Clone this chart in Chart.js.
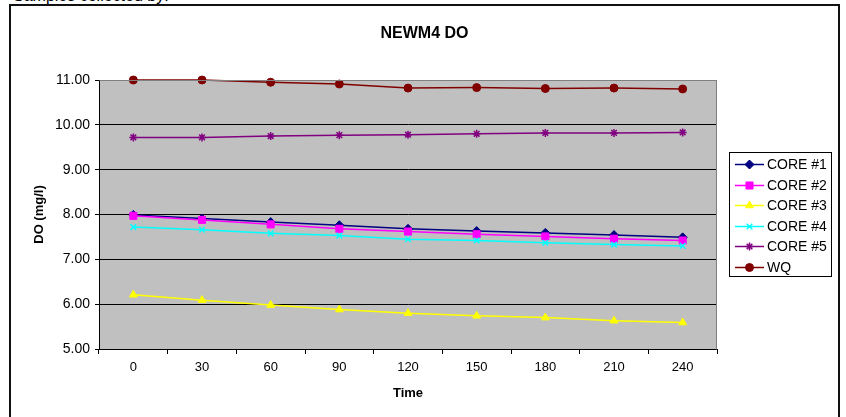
<!DOCTYPE html>
<html>
<head>
<meta charset="utf-8">
<script src="https://cdn.jsdelivr.net/npm/chart.js@4/dist/chart.umd.min.js"></script>
<style>
  body { margin: 0; background: #fff; overflow: hidden; }
  #note { position: absolute; left: 13px; top: -12px; font: 16px Arial, "Liberation Sans", sans-serif; line-height: 16px; color: #000; }
  #doChart { position: absolute; left: 0; top: 0; }
</style>
</head>
<body>
<div id="note">Samples collected by:</div>
<canvas id="doChart" width="846" height="417"></canvas>
<script>
const times = ["0", "30", "60", "90", "120", "150", "180", "210", "240"];
const core1 = [7.99, 7.91, 7.83, 7.76, 7.68, 7.63, 7.59, 7.54, 7.49];
const core2 = [7.97, 7.88, 7.78, 7.68, 7.62, 7.56, 7.51, 7.46, 7.42];
const core3 = [6.21, 6.09, 5.98, 5.88, 5.80, 5.74, 5.70, 5.63, 5.59];
const core4 = [7.72, 7.66, 7.58, 7.53, 7.45, 7.42, 7.37, 7.33, 7.30];
const core5 = [9.72, 9.72, 9.75, 9.77, 9.78, 9.80, 9.82, 9.82, 9.83];
const wq = [11.00, 11.00, 10.95, 10.91, 10.82, 10.83, 10.81, 10.82, 10.80];
const chartTitle = "NEWM4 DO";

const FONT = "Arial, 'Liberation Sans', sans-serif";

function series(label, data, color, style, radius, order) {
    return {
        label: label,
        data: data,
        borderColor: color,
        backgroundColor: color,
        pointBackgroundColor: color,
        pointBorderColor: color,
        borderWidth: 1.5,
        pointStyle: style,
        pointRadius: radius,
        pointBorderWidth: (style === "crossRot" || style === "star") ? 1.5 : 1,
        tension: 0,
        clip: false,
        order: order
    };
}

// plot background, outer frame, plot border, title centred on the whole frame
const frame = {
    id: "frame",
    beforeDraw(chart) {
        const ctx = chart.ctx;
        const a = chart.chartArea;
        ctx.save();
        ctx.strokeStyle = "#111";
        ctx.lineWidth = 2;
        ctx.strokeRect(10, 5, 829, 440);
        ctx.fillStyle = "#c0c0c0";
        ctx.fillRect(a.left, a.top, a.right - a.left, a.bottom - a.top);
        ctx.fillStyle = "#000";
        ctx.font = "bold 16px " + FONT;
        ctx.textAlign = "center";
        ctx.textBaseline = "middle";
        ctx.fillText(chartTitle, 424.5, 34);
        ctx.restore();
    },
    afterDatasetsDraw(chart) {
        const ctx = chart.ctx;
        const a = chart.chartArea;
        ctx.save();
        ctx.strokeStyle = "#808080";
        ctx.lineWidth = 1;
        ctx.beginPath();
        ctx.moveTo(Math.round(a.left) + 0.5, Math.round(a.top) + 0.5);
        ctx.lineTo(Math.round(a.right) - 0.5, Math.round(a.top) + 0.5);
        ctx.lineTo(Math.round(a.right) - 0.5, Math.round(a.bottom) + 0.5);
        ctx.stroke();
        ctx.restore();
    }
};

// legend box drawn on the right like the spreadsheet one
const sideLegend = {
    id: "sideLegend",
    afterDraw(chart) {
        const ctx = chart.ctx;
        const box = { x: 729, y: 152, w: 102, h: 124 };
        ctx.save();
        ctx.fillStyle = "#fff";
        ctx.fillRect(box.x, box.y, box.w, box.h);
        ctx.strokeStyle = "#000";
        ctx.lineWidth = 1;
        ctx.strokeRect(box.x + 0.5, box.y + 0.5, box.w, box.h);
        ctx.font = "14px " + FONT;
        ctx.textBaseline = "middle";
        chart.data.datasets.forEach(function (ds, i) {
            const y = Math.round(164 + i * 20.5) + 0.5;
            ctx.strokeStyle = ds.borderColor;
            ctx.lineWidth = 1.5;
            ctx.beginPath();
            ctx.moveTo(735, y);
            ctx.lineTo(764, y);
            ctx.stroke();
            ctx.fillStyle = ds.pointBackgroundColor;
            ctx.strokeStyle = ds.pointBorderColor;
            ctx.lineWidth = ds.pointBorderWidth;
            Chart.helpers.drawPoint(ctx, {
                pointStyle: ds.pointStyle,
                radius: ds.pointRadius,
                borderWidth: ds.pointBorderWidth,
                rotation: 0
            }, 749.5, y);
            ctx.fillStyle = "#000";
            ctx.fillText(ds.label, 767, y + 1);
        });
        ctx.restore();
    }
};

new Chart(document.getElementById("doChart"), {
    type: "line",
    data: {
        labels: times,
        datasets: [
            series("CORE #1", core1, "#000080", "rectRot", 4.5, 6),
            series("CORE #2", core2, "#ff00ff", "rect", 5, 5),
            series("CORE #3", core3, "#ffff00", "triangle", 4.5, 4),
            series("CORE #4", core4, "#00ffff", "crossRot", 4, 3),
            series("CORE #5", core5, "#800080", "star", 4, 2),
            series("WQ", wq, "#800000", "circle", 4, 1)
        ]
    },
    options: {
        responsive: false,
        animation: false,
        events: [],
        layout: { padding: { left: 0, right: 129, top: 80, bottom: 0 } },
        plugins: {
            legend: { display: false },
            tooltip: { enabled: false },
            title: { display: false }
        },
        scales: {
            x: {
                offset: true,
                afterFit: function (scale) { scale.height = 68; },
                grid: {
                    offset: true,
                    drawOnChartArea: false,
                    drawTicks: true,
                    tickLength: 5,
                    tickColor: "#000"
                },
                border: { color: "#000", width: 1 },
                ticks: {
                    color: "#000",
                    padding: 6,
                    maxRotation: 0,
                    font: { family: FONT, size: 13 }
                },
                title: {
                    display: true,
                    text: "Time",
                    color: "#000",
                    font: { family: FONT, size: 13, weight: "bold", lineHeight: 1.2 },
                    padding: { top: 0, bottom: 16 }
                }
            },
            y: {
                min: 5,
                max: 11,
                afterFit: function (scale) { scale.width = 99; },
                grid: {
                    color: function (c) { return c.tick && c.tick.value === 11 ? "#808080" : "#000"; },
                    lineWidth: 1,
                    drawTicks: true,
                    tickLength: 4,
                    tickColor: "#000"
                },
                border: { color: "#000", width: 1 },
                ticks: {
                    stepSize: 1,
                    color: "#000",
                    padding: 5,
                    font: { family: FONT, size: 14 },
                    callback: function (v) { return Number(v).toFixed(2); }
                },
                title: {
                    display: true,
                    text: "DO (mg/l)",
                    color: "#000",
                    font: { family: FONT, size: 13, weight: "bold", lineHeight: 1.2 },
                    padding: { top: 32, bottom: 0 }
                }
            }
        }
    },
    plugins: [frame, sideLegend]
});
</script>
</body>
</html>
